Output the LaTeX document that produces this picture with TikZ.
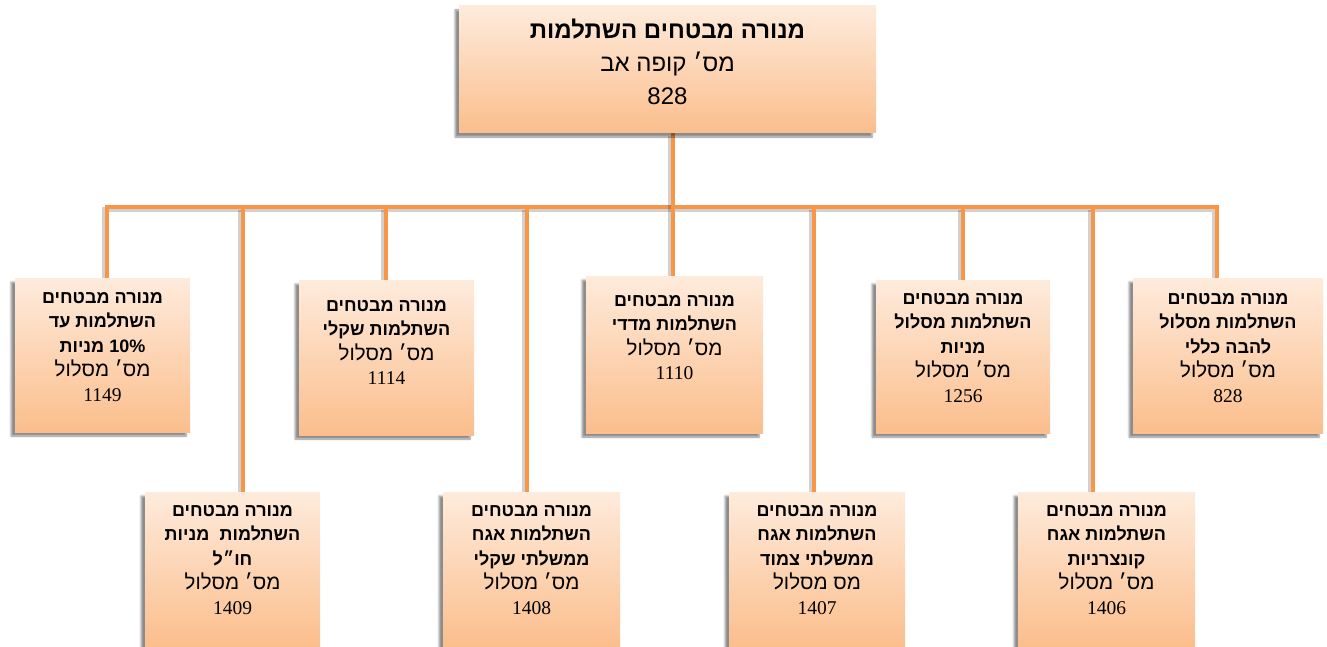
\documentclass[tikz,border=0pt]{standalone}
\usepackage{fontspec}
\setmainfont{Liberation Serif}
\newfontfamily\hebfont[Script=Hebrew]{Liberation Sans}
\TeXXeTstate=1
\usetikzlibrary{shadows.blur}
\definecolor{linec}{RGB}{247,150,70}
\definecolor{boxtop}{RGB}{254,235,220}
\definecolor{boxbot}{RGB}{251,190,140}
\newcommand{\hb}[1]{\beginR #1\endR}
\newcommand{\bl}[1]{\hb{\bfseries #1}}
\newcommand{\rl}[1]{{\fontsize{20.5}{24.5}\selectfont\hb{#1}}}
\newcommand{\nl}[1]{{\rmfamily\fontsize{19.5}{24.5}\selectfont #1}}
\pgfdeclarelayer{bg}
\pgfsetlayers{bg,main}
\tikzset{
  orgbox/.style={rectangle, top color=boxtop, bottom color=boxbot,
    minimum width=#1, minimum height=155pt, inner sep=0pt,
    blur shadow={shadow xshift=-4pt, shadow yshift=-4pt, shadow blur steps=6, shadow opacity=45}},
  orgbox/.default=175pt,
  boxtext/.style={anchor=north, align=center, inner sep=0pt,
    font=\hebfont\fontsize{18}{24.5}\selectfont},
  toptext/.style={anchor=north, align=center, inner sep=0pt,
    font=\hebfont\fontsize{24}{33}\selectfont},
  conn/.style={draw=linec, line width=3.5pt,
    preaction={draw=black, opacity=0.18, line width=4.5pt,
      transform canvas={xshift=-2.5pt, yshift=-2.5pt}}}
}
\begin{document}
\begin{tikzpicture}[x=1pt,y=-1pt]
\useasboundingbox (0,0) rectangle (1327,647);
% top box
\node[orgbox=417pt, minimum height=127pt] (top) at (667.5,69.5) {};
\node[toptext] (topt) at ([yshift=-13pt]top.north)
  {\hb{\bfseries מנורה מבטחים השתלמות}\\ \hb{מס׳ קופה אב}\\ 828};
% top row
\node[orgbox, minimum height=154pt] (A) at (102.5,355) {};
\node[orgbox] (B) at (386.5,357.5) {};
\node[orgbox=177pt, minimum height=157pt] (C) at (674.5,354.5) {};
\node[orgbox=174pt, minimum height=153pt] (D) at (963,356.5) {};
\node[orgbox=190pt] (E) at (1228,355.5) {};
% bottom row
\node[orgbox] (F) at (232.5,569.5) {};
\node[orgbox=177pt] (G) at (531.5,569.5) {};
\node[orgbox=176pt] (H) at (817,569.5) {};
\node[orgbox=177pt] (I) at (1106.5,569.5) {};
% texts
\node[boxtext] (At) at ([yshift=-14pt]A.north)
  {\bl{מנורה מבטחים}\\ \bl{השתלמות עד}\\
   \bl{\beginL 10\%\endL{} מניות}\\ \rl{מס׳ מסלול}\\ \nl{1149}};
\node[boxtext] (Bt) at ([yshift=-20pt]B.north)
  {\bl{מנורה מבטחים}\\ \bl{השתלמות שקלי}\\
   \rl{מס׳ מסלול}\\ \nl{1114}};
\node[boxtext] (Ct) at ([yshift=-19pt]C.north)
  {\bl{מנורה מבטחים}\\ \bl{השתלמות מדדי}\\
   \rl{מס׳ מסלול}\\ \nl{1110}};
\node[boxtext] (Dt) at ([yshift=-13pt]D.north)
  {\bl{מנורה מבטחים}\\ \bl{השתלמות מסלול}\\
   \bl{מניות}\\ \rl{מס׳ מסלול}\\ \nl{1256}};
\node[boxtext] (Et) at ([yshift=-15pt]E.north)
  {\bl{מנורה מבטחים}\\ \bl{השתלמות מסלול}\\
   \bl{להבה כללי}\\ \rl{מס׳ מסלול}\\ \nl{828}};
\node[boxtext] (Ft) at ([yshift=-13pt]F.north)
  {\bl{מנורה מבטחים}\\ \bl{השתלמות\hspace{0.3em} מניות}\\
   \bl{חו״ל}\\ \rl{מס׳ מסלול}\\ \nl{1409}};
\node[boxtext] (Gt) at ([yshift=-13pt]G.north)
  {\bl{מנורה מבטחים}\\ \bl{השתלמות אגח}\\
   \bl{ממשלתי שקלי}\\ \rl{מס׳ מסלול}\\ \nl{1408}};
\node[boxtext] (Ht) at ([yshift=-13pt]H.north)
  {\bl{מנורה מבטחים}\\ \bl{השתלמות אגח}\\
   \bl{ממשלתי צמוד}\\ \rl{מס מסלול}\\ \nl{1407}};
\node[boxtext] (It) at ([yshift=-13pt]I.north)
  {\bl{מנורה מבטחים}\\ \bl{השתלמות אגח}\\
   \bl{קונצרניות}\\ \rl{מס׳ מסלול}\\ \nl{1406}};
% connectors
\coordinate (dA) at (107,207);
\coordinate (dF) at (243,207);
\coordinate (dB) at (386,207);
\coordinate (dG) at (527,207);
\coordinate (tr) at (673,207);
\coordinate (dC) at (673,207);
\coordinate (dH) at (814,207);
\coordinate (dD) at (963,207);
\coordinate (dI) at (1093,207);
\coordinate (dE) at (1217,207);
\begin{pgfonlayer}{bg}
\draw[conn] (dA |- A.north) -- (dA) -- (dE) -- (dE |- E.north);
\draw[conn] (top.south -| tr) -- (tr);
\draw[conn] (dF) -- (dF |- F.north);
\draw[conn] (dB) -- (dB |- B.north);
\draw[conn] (dG) -- (dG |- G.north);
\draw[conn] (dC) -- (dC |- C.north);
\draw[conn] (dH) -- (dH |- H.north);
\draw[conn] (dD) -- (dD |- D.north);
\draw[conn] (dI) -- (dI |- I.north);
\end{pgfonlayer}
\end{tikzpicture}
\end{document}
